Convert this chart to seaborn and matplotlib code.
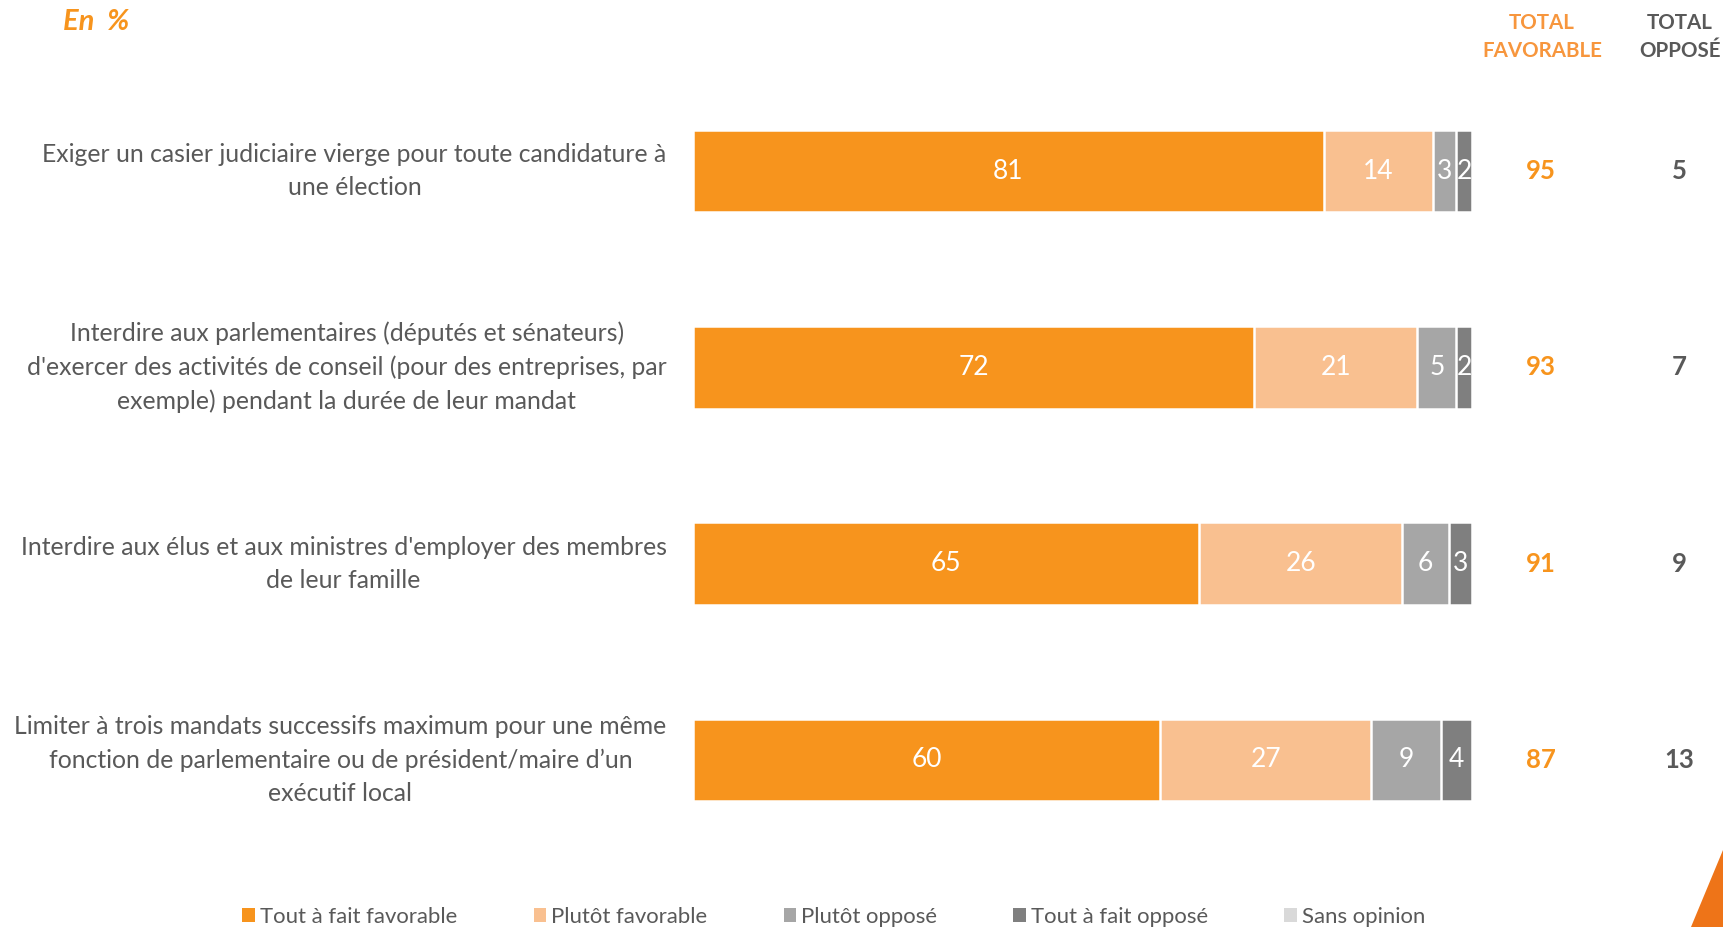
import matplotlib
matplotlib.use("Agg")
import matplotlib.pyplot as plt
import matplotlib.transforms as mtransforms
from matplotlib.patches import Patch, Polygon
import seaborn as sns
import pandas as pd
import numpy as np

categories = [
    "Exiger un casier judiciaire vierge pour toute candidature à\nune élection",
    "Interdire aux parlementaires (députés et sénateurs)\nd'exercer des activités de conseil (pour des entreprises, par\nexemple) pendant la durée de leur mandat",
    "Interdire aux élus et aux ministres d'employer des membres\nde leur famille",
    "Limiter à trois mandats successifs maximum pour une même\nfonction de parlementaire ou de président/maire d’un\nexécutif local",
]
series_names = ["Tout à fait favorable", "Plutôt favorable", "Plutôt opposé",
                "Tout à fait opposé", "Sans opinion"]
tout_favorable = [81, 72, 65, 60]
plutot_favorable = [14, 21, 26, 27]
plutot_oppose = [3, 5, 6, 9]
tout_oppose = [2, 2, 3, 4]
sans_opinion = [0, 0, 0, 0]
total_favorable = [95, 93, 91, 87]
total_oppose = [5, 7, 9, 13]

colors = ["#F7941D", "#F9C090", "#A6A6A6", "#7F7F7F", "#D9D9D9"]
TXT = "#595959"

sns.set_theme(style="white")
plt.rcParams["font.family"] = ["Lato", "DejaVu Sans"]

df = pd.DataFrame({
    "cat": categories,
    series_names[0]: tout_favorable,
    series_names[1]: plutot_favorable,
    series_names[2]: plutot_oppose,
    series_names[3]: tout_oppose,
    series_names[4]: sans_opinion,
})
vals = df[series_names].to_numpy(dtype=float)
cums = np.cumsum(vals, axis=1)

fig = plt.figure(figsize=(17.23, 9.27), dpi=100)
ax = fig.add_axes([693 / 1723, 1 - 858 / 927, 779 / 1723, 785 / 927])

# overlay cumulative bars, from the largest cumulative down
for j in range(len(series_names) - 1, -1, -1):
    sub = pd.DataFrame({"cat": categories, "cum": cums[:, j]})
    sns.barplot(data=sub, x="cum", y="cat", orient="h", color=colors[j],
                width=0.42, edgecolor="white", linewidth=1.8, saturation=1,
                ax=ax)

ax.set_xlim(0, 100)
ax.set_ylim(3.5, -0.5)
ax.set_xlabel("")
ax.set_ylabel("")
ax.set_xticks([])
for s in ax.spines.values():
    s.set_visible(False)
ax.tick_params(axis="y", length=0, pad=19, labelsize=17.8, labelcolor=TXT)
for lbl in ax.get_yticklabels():
    lbl.set_multialignment("center")
    lbl.set_linespacing(1.52)
    lbl.set_va("center")

# value labels
for i in range(len(categories)):
    for j in range(len(series_names)):
        v = vals[i, j]
        if v > 0:
            ax.text(cums[i, j] - v / 2, i, f"{int(v)}", ha="center", va="center",
                    color="white", fontsize=19)

# totals
trans = mtransforms.blended_transform_factory(fig.transFigure, ax.transData)
for i in range(len(categories)):
    ax.text(1541 / 1723, i, str(total_favorable[i]), transform=trans,
            ha="center", va="center", fontsize=18.5, fontweight="bold",
            color="#F7941D")
    ax.text(1679 / 1723, i, str(total_oppose[i]), transform=trans,
            ha="center", va="center", fontsize=18.5, fontweight="bold",
            color=TXT)

fig.text(1542 / 1723, 1 - 37 / 927, "TOTAL\nFAVORABLE", ha="center", va="center",
         fontsize=14.8, fontweight="bold", color="#F7963D", linespacing=1.55)
fig.text(1680 / 1723, 1 - 37 / 927, "TOTAL\nOPPOSÉ", ha="center", va="center",
         fontsize=14.8, fontweight="bold", color=TXT, linespacing=1.55)

fig.text(63 / 1723, 1 - 22 / 927, "En  %", ha="left", va="center",
         fontsize=21, fontweight="bold", fontstyle="italic", color="#F7941D")

handles = [Patch(facecolor=c, edgecolor="none") for c in colors]
fig.legend(handles, series_names, loc="center", bbox_to_anchor=(0.484, 0.011),
           ncol=5, frameon=False, fontsize=15.9, handlelength=0.55,
           handleheight=0.55, handletextpad=0.25, columnspacing=3.45,
           borderpad=0, labelcolor=TXT)

tri = Polygon([(1, 1 - 850 / 927), (1691 / 1723, 0), (1, 0)], closed=True,
              transform=fig.transFigure, facecolor="#EE7418", edgecolor="none")
fig.patches.append(tri)

fig.savefig("out.png", dpi=100)
